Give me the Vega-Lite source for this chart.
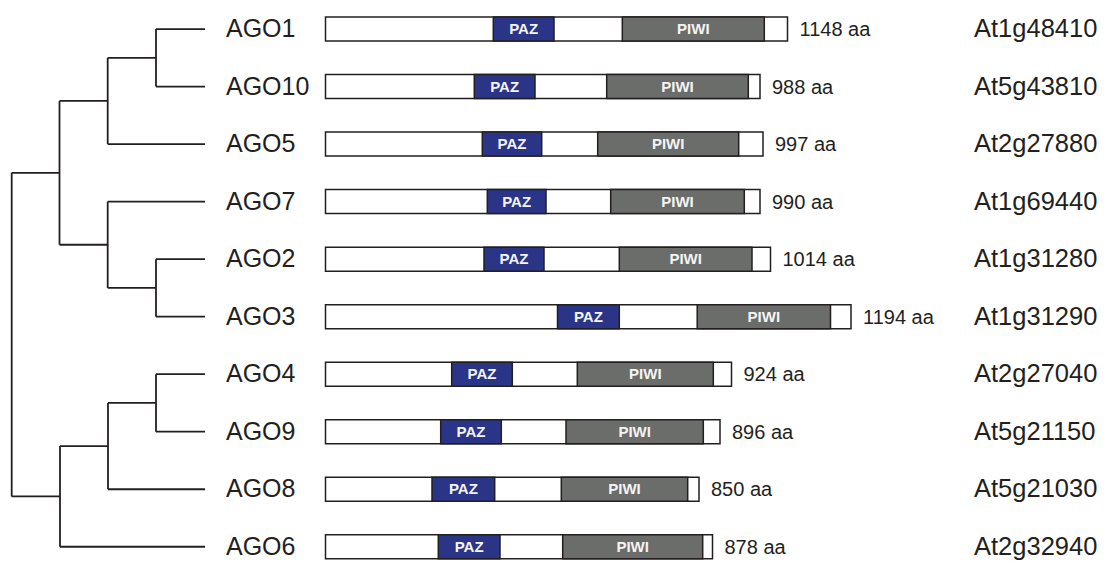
{
  "$schema": "https://vega.github.io/schema/vega-lite/v6.json",
  "width": 1107,
  "height": 565,
  "padding": 0,
  "autosize": {"type": "fit", "contains": "padding"},
  "background": "white",
  "config": {"view": {"stroke": null}, "font": "Liberation Sans"},
  "datasets": {
    "proteins": [
      {"row": 0, "gene": "AGO1", "locus": "At1g48410", "len": "1148 aa", "start": 325.5, "end": 787.5},
      {"row": 1, "gene": "AGO10", "locus": "At5g43810", "len": "988 aa", "start": 325.5, "end": 760},
      {"row": 2, "gene": "AGO5", "locus": "At2g27880", "len": "997 aa", "start": 325.5, "end": 763},
      {"row": 3, "gene": "AGO7", "locus": "At1g69440", "len": "990 aa", "start": 325.5, "end": 760},
      {"row": 4, "gene": "AGO2", "locus": "At1g31280", "len": "1014 aa", "start": 325.5, "end": 770.5},
      {"row": 5, "gene": "AGO3", "locus": "At1g31290", "len": "1194 aa", "start": 325.5, "end": 851},
      {"row": 6, "gene": "AGO4", "locus": "At2g27040", "len": "924 aa", "start": 325.5, "end": 731.5},
      {"row": 7, "gene": "AGO9", "locus": "At5g21150", "len": "896 aa", "start": 325.5, "end": 720},
      {"row": 8, "gene": "AGO8", "locus": "At5g21030", "len": "850 aa", "start": 325.5, "end": 699},
      {"row": 9, "gene": "AGO6", "locus": "At2g32940", "len": "878 aa", "start": 325.5, "end": 712.5}
    ],
    "domains": [
      {"row": 0, "domain": "PAZ", "start": 493.3, "end": 554},
      {"row": 0, "domain": "PIWI", "start": 622.3, "end": 764.3},
      {"row": 1, "domain": "PAZ", "start": 474.3, "end": 535},
      {"row": 1, "domain": "PIWI", "start": 606.7, "end": 748.3},
      {"row": 2, "domain": "PAZ", "start": 482.3, "end": 541.7},
      {"row": 2, "domain": "PIWI", "start": 597.7, "end": 738.7},
      {"row": 3, "domain": "PAZ", "start": 487.3, "end": 546},
      {"row": 3, "domain": "PIWI", "start": 610.7, "end": 744.3},
      {"row": 4, "domain": "PAZ", "start": 484, "end": 544},
      {"row": 4, "domain": "PIWI", "start": 619.3, "end": 752},
      {"row": 5, "domain": "PAZ", "start": 557.5, "end": 619.3},
      {"row": 5, "domain": "PIWI", "start": 697.2, "end": 830.5},
      {"row": 6, "domain": "PAZ", "start": 451.7, "end": 512.3},
      {"row": 6, "domain": "PIWI", "start": 577.3, "end": 713.3},
      {"row": 7, "domain": "PAZ", "start": 440.7, "end": 501.3},
      {"row": 7, "domain": "PIWI", "start": 566, "end": 703.3},
      {"row": 8, "domain": "PAZ", "start": 432, "end": 494.7},
      {"row": 8, "domain": "PIWI", "start": 561.3, "end": 687.7},
      {"row": 9, "domain": "PAZ", "start": 438.3, "end": 500},
      {"row": 9, "domain": "PIWI", "start": 562.7, "end": 702.7}
    ],
    "tree": [
      {"x": 156, "x2": 205, "y": 0, "y2": 0},
      {"x": 156, "x2": 205, "y": 1, "y2": 1},
      {"x": 156, "x2": 156, "y": 0, "y2": 1},
      {"x": 107.7, "x2": 156, "y": 0.5, "y2": 0.5},
      {"x": 107.7, "x2": 205, "y": 2, "y2": 2},
      {"x": 107.7, "x2": 107.7, "y": 0.5, "y2": 2},
      {"x": 59.5, "x2": 107.7, "y": 1.25, "y2": 1.25},
      {"x": 107.7, "x2": 205, "y": 3, "y2": 3},
      {"x": 156, "x2": 205, "y": 4, "y2": 4},
      {"x": 156, "x2": 205, "y": 5, "y2": 5},
      {"x": 156, "x2": 156, "y": 4, "y2": 5},
      {"x": 107.7, "x2": 156, "y": 4.5, "y2": 4.5},
      {"x": 107.7, "x2": 107.7, "y": 3, "y2": 4.5},
      {"x": 59.5, "x2": 107.7, "y": 3.75, "y2": 3.75},
      {"x": 59.5, "x2": 59.5, "y": 1.25, "y2": 3.75},
      {"x": 11.7, "x2": 59.5, "y": 2.5, "y2": 2.5},
      {"x": 156, "x2": 205, "y": 6, "y2": 6},
      {"x": 156, "x2": 205, "y": 7, "y2": 7},
      {"x": 156, "x2": 156, "y": 6, "y2": 7},
      {"x": 108, "x2": 156, "y": 6.5, "y2": 6.5},
      {"x": 108, "x2": 205, "y": 8, "y2": 8},
      {"x": 108, "x2": 108, "y": 6.5, "y2": 8},
      {"x": 60, "x2": 108, "y": 7.25, "y2": 7.25},
      {"x": 60, "x2": 205, "y": 9, "y2": 9},
      {"x": 60, "x2": 60, "y": 7.25, "y2": 9},
      {"x": 11.7, "x2": 60, "y": 8.125, "y2": 8.125},
      {"x": 11.7, "x2": 11.7, "y": 2.5, "y2": 8.125}
    ]
  },
  "resolve": {"scale": {"x": "shared", "y": "shared"}},
  "layer": [
    {
      "data": {"name": "tree"},
      "mark": {"type": "rule", "stroke": "#231f20", "strokeWidth": 1.8},
      "encoding": {
        "x": {"field": "x", "type": "quantitative", "scale": {"domain": [0, 1107], "nice": false, "zero": false}, "axis": null},
        "x2": {"field": "x2"},
        "y": {"field": "y", "type": "quantitative", "scale": {"domain": [-0.418, 9.23], "nice": false, "zero": false, "reverse": true}, "axis": null},
        "y2": {"field": "y2"}
      }
    },
    {
      "data": {"name": "proteins"},
      "mark": {"type": "bar", "height": 24, "fill": "white", "stroke": "#231f20", "strokeWidth": 1.5},
      "encoding": {
        "x": {"field": "start", "type": "quantitative"},
        "x2": {"field": "end"},
        "y": {"field": "row", "type": "quantitative"}
      }
    },
    {
      "data": {"name": "domains"},
      "mark": {"type": "bar", "height": 24, "stroke": "#231f20", "strokeWidth": 1.5},
      "encoding": {
        "x": {"field": "start", "type": "quantitative"},
        "x2": {"field": "end"},
        "y": {"field": "row", "type": "quantitative"},
        "fill": {"field": "domain", "type": "nominal", "scale": {"domain": ["PAZ", "PIWI"], "range": ["#2a3587", "#6b6d6a"]}, "legend": null}
      }
    },
    {
      "data": {"name": "domains"},
      "transform": [{"fold": ["start", "end"], "as": ["edge", "pos"]}],
      "mark": {"type": "text", "fontSize": 15, "fontWeight": "bold", "align": "center", "baseline": "middle", "fill": "#f4f4f4"},
      "encoding": {
        "x": {"field": "pos", "type": "quantitative", "aggregate": "mean"},
        "y": {"field": "row", "type": "quantitative"},
        "text": {"field": "domain", "type": "nominal"}
      }
    },
    {
      "data": {"name": "proteins"},
      "mark": {"type": "text", "fontSize": 25, "align": "left", "baseline": "middle", "fill": "#231f20"},
      "encoding": {
        "x": {"datum": 226},
        "y": {"field": "row", "type": "quantitative"},
        "text": {"field": "gene", "type": "nominal"}
      }
    },
    {
      "data": {"name": "proteins"},
      "mark": {"type": "text", "fontSize": 20, "align": "left", "baseline": "middle", "dx": 12, "dy": 1, "fill": "#231f20"},
      "encoding": {
        "x": {"field": "end", "type": "quantitative"},
        "y": {"field": "row", "type": "quantitative"},
        "text": {"field": "len", "type": "nominal"}
      }
    },
    {
      "data": {"name": "proteins"},
      "mark": {"type": "text", "fontSize": 25.5, "align": "left", "baseline": "middle", "fill": "#231f20"},
      "encoding": {
        "x": {"datum": 974},
        "y": {"field": "row", "type": "quantitative"},
        "text": {"field": "locus", "type": "nominal"}
      }
    }
  ]
}
